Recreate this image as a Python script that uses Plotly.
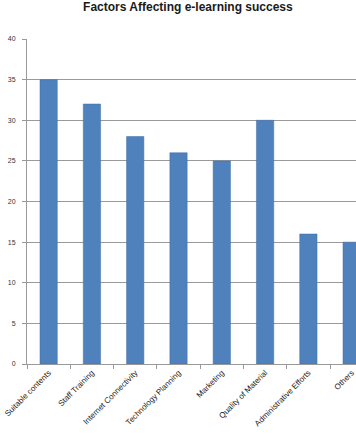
import plotly.graph_objects as go

categories = ["Suitable contents", "Staff Training", "Internet Connectivity",
              "Technology Planning", "Marketing", "Quality of Material",
              "Administrative Efforts", "Others"]
values = [35, 32, 28, 26, 25, 30, 16, 15]
y_ticks = [0, 5, 10, 15, 20, 25, 30, 35, 40]

fig = go.Figure(go.Bar(
    x=categories, y=values,
    marker=dict(color="#4F81BD", line=dict(color="#3F6FA8", width=0.5)),
    width=0.4,
))

fig.update_layout(
    width=356, height=442,
    margin=dict(l=27, r=0, t=39, b=78, autoexpand=False),
    paper_bgcolor="white", plot_bgcolor="white",
    showlegend=False,
    title=dict(text="<b>Factors Affecting e-learning success</b>",
               font=dict(family="Liberation Sans", size=12, color="#1a1a1a"),
               x=0.489, xref="paper", xanchor="center",
               y=0.985, yref="container", yanchor="middle",
               pad=dict(t=0, b=0), automargin=False),
    font=dict(family="Liberation Sans", size=8, color="#222222"),
)
fig.update_xaxes(
    type="category", range=[-0.5, 7.1], automargin=False,
    showline=True, linecolor="#999999", linewidth=1,
    ticks="outside", tickson="boundaries", ticklen=4, tickcolor="#999999",
    tickangle=-45, tickfont=dict(size=8, color="#222222"),
    showgrid=False,
)
fig.update_yaxes(
    range=[0, 40], tickvals=y_ticks, automargin=False,
    showline=True, linecolor="#999999", linewidth=1,
    ticks="outside", ticklen=4, tickcolor="#999999",
    ticklabelstandoff=5,
    showgrid=True, gridcolor="#9a9a9a", gridwidth=1,
    tickfont=dict(size=7, color="#333333"),
    zeroline=False,
)
fig.write_html("out.html",
               config={"displayModeBar": False, "staticPlot": True},
               post_script="document.body.style.margin='0';document.body.style.overflow='hidden';")
